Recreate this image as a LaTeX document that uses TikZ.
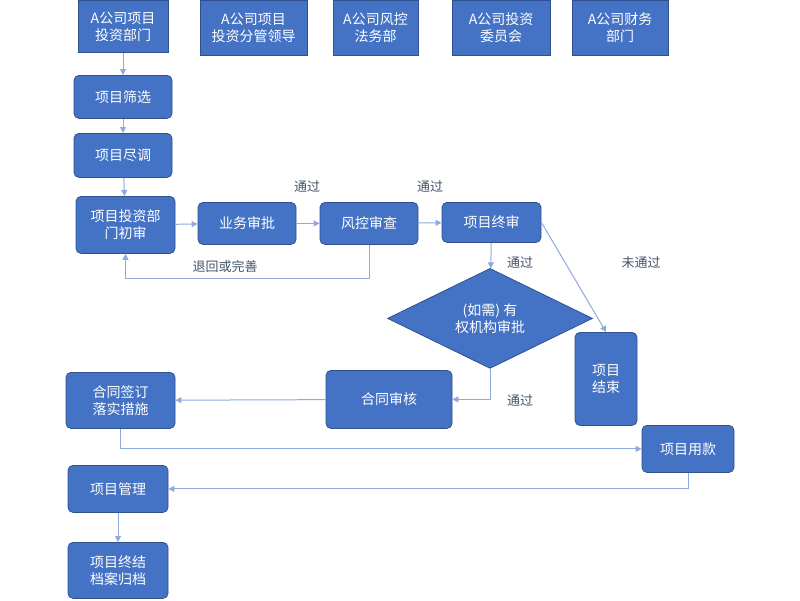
\documentclass[tikz,border=0pt]{standalone}
\usepackage{fontspec}
\setmainfont{Liberation Serif}
\newfontfamily\cjk{Noto Sans CJK SC}
\usetikzlibrary{shapes.geometric,arrows.meta}
\definecolor{bfill}{HTML}{4472C4}
\definecolor{bline}{HTML}{2F528F}
\definecolor{conn}{HTML}{8FAADC}
\definecolor{lab}{HTML}{44546A}
\begin{document}
\begin{tikzpicture}[x=1pt,y=-1pt,
 box/.style={draw=bline,fill=bfill,text=white,rounded corners=5pt,font=\cjk\fontsize{14}{17}\selectfont,align=center,inner sep=0pt,line width=0.8pt},
 hdr/.style={box,rounded corners=0pt},
 arr/.style={draw=conn,line width=1pt,-{Triangle[length=6pt,width=6pt]}},
 lbl/.style={text=lab,font=\cjk\fontsize{13}{15}\selectfont}]
\fill[white] (0,0) rectangle (800,600);
\node[hdr,minimum width=90,minimum height=52] (h1) at (123,26) {A公司项目\\投资部门};
\node[hdr,minimum width=107,minimum height=55] (h2) at (253.5,27.5) {A公司项目\\投资分管领导};
\node[hdr,minimum width=85,minimum height=55] (h3) at (375.5,27.5) {A公司风控\\法务部};
\node[hdr,minimum width=98,minimum height=55] (h4) at (501,27.5) {A公司投资\\委员会};
\node[hdr,minimum width=96,minimum height=55] (h5) at (620,27.5) {A公司财务\\部门};
\node[box,minimum width=98,minimum height=43] (sx) at (123,96.5) {项目筛选};
\node[box,minimum width=98,minimum height=44] (jd) at (123,155) {项目尽调};
\node[box,minimum width=99,minimum height=57] (cs) at (125.5,224.5) {项目投资部\\门初审};
\node[box,minimum width=98,minimum height=42] (yw) at (247,223) {业务审批};
\node[box,minimum width=98,minimum height=42] (fk) at (369,223) {风控审查};
\node[box,minimum width=99,minimum height=40] (zs) at (491.5,222) {项目终审};
\node[diamond,draw=bline,fill=bfill,text=white,font=\cjk\fontsize{14}{17}\selectfont,align=center,minimum width=205,minimum height=100,inner sep=0pt,line width=0.8pt] (dm) at (490,318) {(如需) 有\\权机构审批};
\node[box,minimum width=62,minimum height=93] (js) at (606,378.5) {项目\\结束};
\node[box,minimum width=126,minimum height=58] (hs) at (389,399) {合同审核};
\node[box,minimum width=109,minimum height=56] (qd) at (120.5,400) {合同签订\\落实措施};
\node[box,minimum width=92,minimum height=47] (yk) at (688,448.5) {项目用款};
\node[box,minimum width=100,minimum height=47] (gl) at (118,488.5) {项目管理};
\node[box,minimum width=100,minimum height=56] (gd) at (118,570) {项目终结\\档案归档};
\draw[arr] (h1) -- (sx);
\draw[arr] (sx) -- (jd);
\draw[arr] (jd) -- (cs);
\draw[arr] (cs) -- (yw);
\draw[arr] (yw) -- (fk);
\draw[arr] (fk) -- (zs);
\draw[arr] (zs) -- (dm);
\draw[arr] (zs.east) -- (js.north);
\draw[arr] (fk.south) |- (247,278) -| (cs.south);
\draw[arr] (dm.south) |- (hs.east);
\draw[arr] (hs) -- (qd);
\draw[arr] (qd.south) |- (yk.west);
\draw[arr] (yk.south) |- (gl.east);
\draw[arr] (gl) -- (gd);
\node[lbl] (l1) at (307,186) {通过};
\node[lbl] (l2) at (430,186) {通过};
\node[lbl] (l3) at (520,262) {通过};
\node[lbl] (l4) at (641,262) {未通过};
\node[lbl] (l5) at (225,266) {退回或完善};
\node[lbl] (l6) at (520,400) {通过};
\end{tikzpicture}
\end{document}
